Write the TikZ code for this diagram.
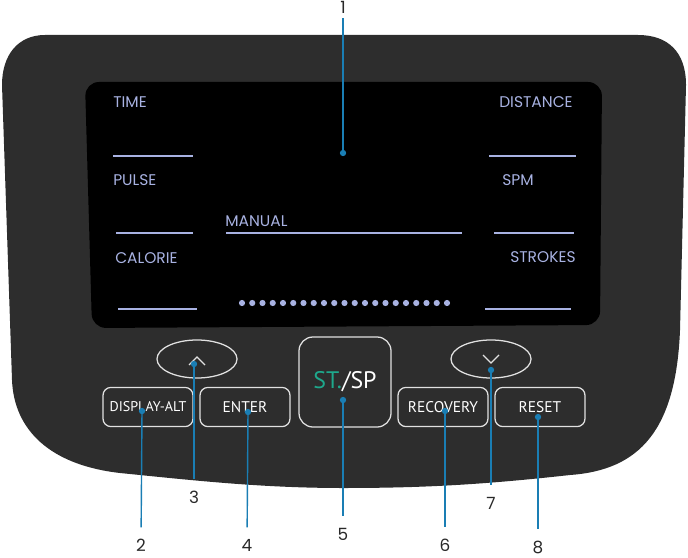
\documentclass[tikz,border=0pt]{standalone}
\usepackage{fontspec}
\usetikzlibrary{shapes.geometric}
\newfontfamily\lcdfont{Poppins}
\newfontfamily\keyfont{PT Sans}
\definecolor{panelgray}{RGB}{45,45,45}
\definecolor{lcdblue}{RGB}{168,178,226}
\definecolor{leaderblue}{RGB}{26,126,180}
\definecolor{stteal}{RGB}{30,168,140}
\definecolor{keyline}{RGB}{225,225,225}
\definecolor{numgray}{RGB}{40,40,40}

\begin{document}
\begin{tikzpicture}[x=0.025cm,y=-0.025cm,
  lcdtext/.style={text=lcdblue,font=\lcdfont\fontsize{11}{13}\selectfont,anchor=west,inner sep=0pt},
  lcdline/.style={lcdblue,line width=0.9pt},
  key/.style={draw=keyline,line width=0.9pt,rounded corners=0.2cm,text=white,
    font=\keyfont\fontsize{11}{13}\selectfont,minimum width=2.25cm,minimum height=0.98cm,inner sep=0pt},
  arrowkey/.style={draw=keyline,line width=0.9pt,ellipse,minimum width=2cm,minimum height=0.95cm,inner sep=0pt},
  marker/.style={circle,fill=leaderblue,inner sep=0pt,minimum size=4.5pt},
  leader/.style={leaderblue,line width=1pt,shorten >=8pt},
  numlabel/.style={text=numgray,font=\lcdfont\fontsize{12}{14}\selectfont,inner sep=0pt}]
  \useasboundingbox (0,0) rectangle (688,557);

  % Console body
  \fill[panelgray] (45,35) -- (638,35) .. controls (668,35) and (686,52) .. (686,85)
    -- (680,330) .. controls (676,430) and (640,470) .. (570,475)
    .. controls (480,485) and (420,488) .. (343,488)
    .. controls (260,488) and (190,480) .. (120,473)
    .. controls (50,465) and (14,430) .. (12,380)
    -- (2,85) .. controls (2,55) and (18,35) .. (45,35) -- cycle;

  % Display
  \fill[black,rounded corners=0.35cm] (85,82) -- (602,82) -- (600,325) -- (92,328) -- cycle;

  % Display labels, left
  \node[lcdtext] (time) at (113,102) {TIME};
  \draw[lcdline] (113,156) -- (193,156);
  \node[lcdtext] (pulse) at (113,180) {PULSE};
  \draw[lcdline] (116,233) -- (193,233);
  \node[lcdtext] (calorie) at (115,258) {CALORIE};
  \draw[lcdline] (118,309) -- (197,309);

  % Display labels, middle
  \node[lcdtext] (manual) at (225,221) {MANUAL};
  \draw[lcdline] (226,233) -- (462,233);
  \foreach \i in {0,...,20}
    \fill[lcdblue] (242+\i*10.25,303) circle (2.2pt);

  % Display labels, right
  \node[lcdtext] (distance) at (499,102) {DISTANCE};
  \draw[lcdline] (489,156) -- (576,156);
  \node[lcdtext] (spm) at (502,180) {SPM};
  \draw[lcdline] (494,233) -- (574,233);
  \node[lcdtext] (strokes) at (510,257) {STROKES};
  \draw[lcdline] (485,309) -- (571,309);

  % Keys
  \node[arrowkey] (up) at (197,359) {};
  \draw[keyline,line width=0.9pt] (189,365) -- (197,357) -- (205,365);
  \node[arrowkey] (down) at (491,359) {};
  \draw[keyline,line width=0.9pt] (483,355) -- (491,363) -- (499,355);
  \node[key,font=\keyfont\fontsize{10}{12}\selectfont] (dispalt) at (148,407) {DISPLAY-ALT};
  \node[key] (enter) at (245,407) {ENTER};
  \node[key,minimum width=2.3cm,minimum height=2.25cm,rounded corners=0.35cm,
    font=\keyfont\fontsize{17}{20}\selectfont] (stsp) at (345,382) {\textcolor{stteal}{ST.}/SP};
  \node[key] (recovery) at (443,407) {RECOVERY};
  \node[key] (reset) at (540,407) {RESET};

  % Markers
  \node[marker] (m1) at (343,153) {};
  \node[marker] (m2) at (142,411) {};
  \node[marker] (m3) at (194,364) {};
  \node[marker] (m4) at (248,412) {};
  \node[marker] (m5) at (343,400) {};
  \node[marker] (m6) at (445,411) {};
  \node[marker] (m7) at (491,370) {};
  \node[marker] (m8) at (538,417) {};

  % Numbers
  \node[numlabel] (n1) at (343,7) {1};
  \node[numlabel] (n2) at (141,545) {2};
  \node[numlabel] (n3) at (194,497) {3};
  \node[numlabel] (n4) at (247,545) {4};
  \node[numlabel] (n5) at (343,534) {5};
  \node[numlabel] (n6) at (445,545) {6};
  \node[numlabel] (n7) at (491,503) {7};
  \node[numlabel] (n8) at (538,547) {8};

  % Leaders
  \draw[leader,shorten >=3pt] (m1.center) -- (n1);
  \draw[leader] (m2.center) -- (n2);
  \draw[leader] (m3.center) -- (n3);
  \draw[leader] (m4.center) -- (n4);
  \draw[leader] (m5.center) -- (n5);
  \draw[leader] (m6.center) -- (n6);
  \draw[leader] (m7.center) -- (n7);
  \draw[leader] (m8.center) -- (n8);
\end{tikzpicture}
\end{document}
